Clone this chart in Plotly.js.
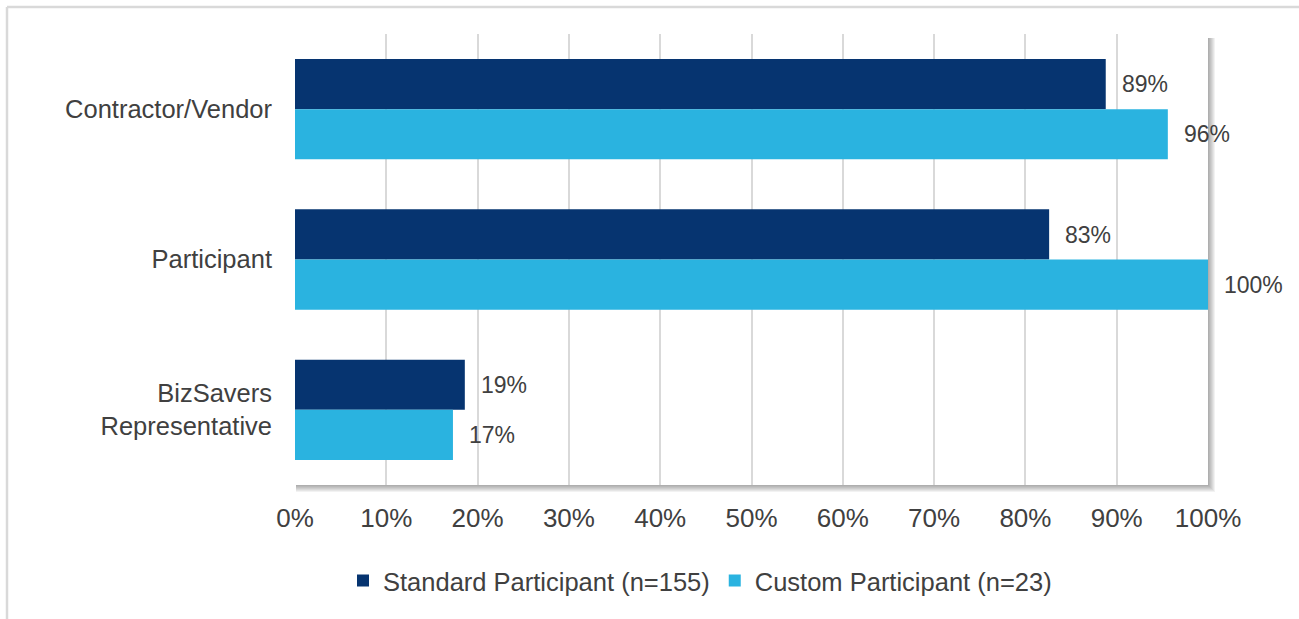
<!DOCTYPE html>
<html>
<head>
<meta charset="utf-8">
<script src="https://cdn.plot.ly/plotly-3.0.1.min.js"></script>
<style>html,body{margin:0;padding:0;background:#fff;}#chart{width:1299px;height:619px;}</style>
</head>
<body>
<div id="chart"></div>
<script>
const categories = ["Contractor/Vendor", "Participant", "BizSavers<br>Representative"];
const seriesNames = ["Standard Participant (n=155)", "Custom Participant (n=23)"];
const standardValues = [88.8, 82.6, 18.6];
const customValues = [95.6, 100, 17.3];
const standardLabels = ["89%", "83%", "19%"];
const customLabels = ["96%", "100%", "17%"];
const xTickVals = [0,10,20,30,40,50,60,70,80,90,100];
const xTickText = ["0%","10%","20%","30%","40%","50%","60%","70%","80%","90%","100%"];

const W = 1299, H = 619;
const L = 295, R = 1208, T = 34, B = 485;
const pw = R - L, ph = B - T;
const px = v => (v - L) / pw;
const py = v => (B - v) / ph;

const FONT = "Liberation Sans, Arial, sans-serif";
const TXT = "#404040";
const NAVY = "#063470";
const CYAN = "#2AB3E0";

const traces = [
  {type:"bar", orientation:"h", name:seriesNames[0], y:categories, x:standardValues,
   marker:{color:NAVY}, hoverinfo:"x+y"},
  {type:"bar", orientation:"h", name:seriesNames[1], y:categories, x:customValues,
   marker:{color:CYAN}, hoverinfo:"x+y"}
];

const annotations = [];
[[standardValues, standardLabels, 0], [customValues, customLabels, 1]].forEach(([vals, labs, idx]) => {
  vals.forEach((v, i) => {
    annotations.push({
      x: v, y: categories[i], xref:"x", yref:"y", text: labs[i], showarrow:false,
      xanchor:"left", yanchor:"middle", xshift: 14, yshift: idx === 0 ? 25 : -25,
      font:{family:FONT, size:23, color:TXT}
    });
  });
});

const shapes = [];
// drop shadow of plot area
for (let i = 1; i <= 7; i++) {
  shapes.push({type:"rect", xref:"paper", yref:"paper", layer:"below",
    x0:px(L+1), x1:px(R+i), y0:py(B+i), y1:py(T+4),
    line:{width:0}, fillcolor:"rgba(0,0,0,0.05)"});
}
// white plot face over the shadow
shapes.push({type:"rect", xref:"paper", yref:"paper", layer:"below",
  x0:0, x1:1, y0:0, y1:1, line:{width:0}, fillcolor:"#ffffff"});
// outer frame
shapes.push({type:"line", xref:"paper", yref:"paper", x0:px(7), x1:px(W+5), y0:py(7), y1:py(7),
  line:{color:"#d9d9d9", width:2.5}});
shapes.push({type:"line", xref:"paper", yref:"paper", x0:px(7), x1:px(7), y0:py(7), y1:py(H+5),
  line:{color:"#d9d9d9", width:2.5}});

const layout = {
  width: W, height: H,
  margin:{l:L, r:W-R, t:T, b:H-B, pad:0},
  paper_bgcolor:"#ffffff", plot_bgcolor:"rgba(0,0,0,0)",
  barmode:"group", bargap:0.333, bargroupgap:0,
  font:{family:FONT, size:26, color:TXT},
  xaxis:{range:[0,100], tickvals:xTickVals, ticktext:xTickText, showgrid:true,
    gridcolor:"#d9d9d9", gridwidth:2, zeroline:false, showline:false, ticks:"",
    ticklabelstandoff:15, tickfont:{family:FONT, size:26, color:TXT}, fixedrange:true},
  yaxis:{type:"category", autorange:"reversed", showgrid:false, zeroline:false, showline:false,
    ticks:"", ticklabelstandoff:22, tickfont:{family:FONT, size:25.5, color:TXT}, fixedrange:true},
  showlegend:true,
  legend:{orientation:"h", x:px(700), xanchor:"center", y:py(581), yanchor:"middle",
    font:{family:FONT, size:25.5, color:TXT}, itemwidth:30, traceorder:"normal", bgcolor:"rgba(0,0,0,0)"},
  annotations: annotations,
  shapes: shapes
};

Plotly.newPlot("chart", traces, layout, {displayModeBar:false, staticPlot:true});
</script>
</body>
</html>
